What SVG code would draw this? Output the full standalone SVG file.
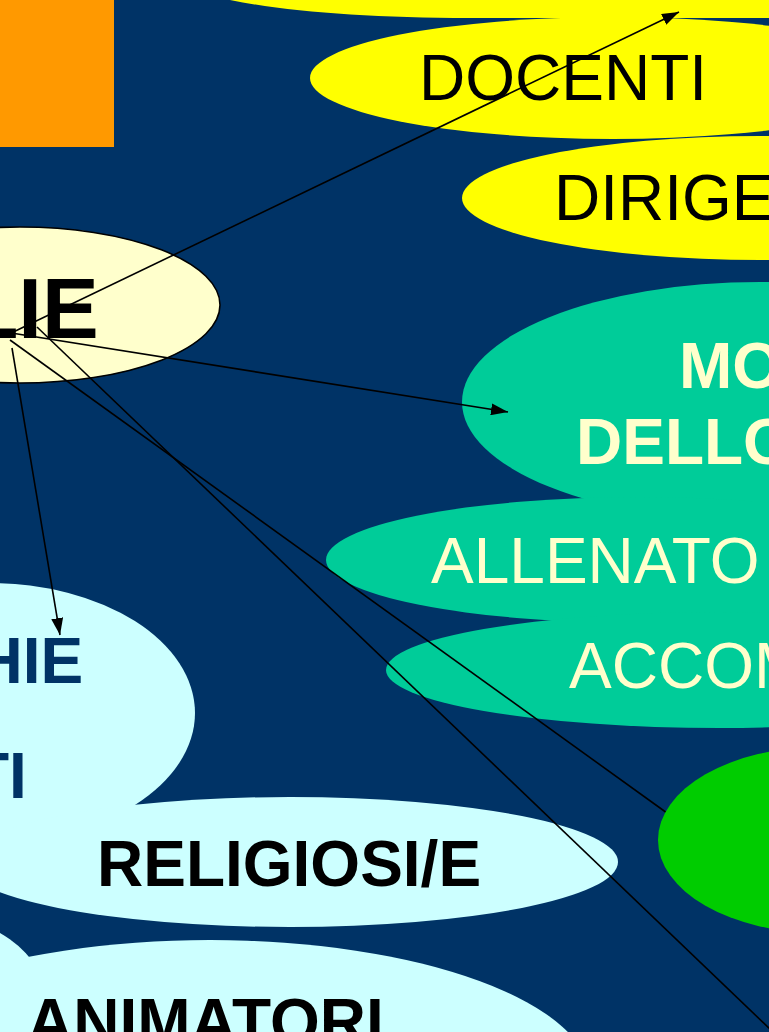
<svg xmlns="http://www.w3.org/2000/svg" width="769" height="1032" viewBox="0 0 769 1032">
<defs>
<style>
.t{font-family:"Liberation Sans",Arial,sans-serif;font-size:64px}
.b{font-weight:bold}
.dark{fill:#000000}
.cream{fill:#FFFFCC}
.navy{fill:#003366}
.yel{fill:#FFFF00}
.teal{fill:#00CC99}
.cyan{fill:#CCFFFF}
.ln{stroke:#000000;stroke-width:1.6;fill:none}
</style>
<marker id="ah" markerUnits="userSpaceOnUse" markerWidth="18" markerHeight="12" refX="17" refY="6" orient="auto">
<path d="M0,0 L17,6 L0,12 Z" fill="#000000"/>
</marker>
</defs>
<rect x="0" y="0" width="769" height="1032" fill="#003366"/>
<g id="title-box"><rect x="0" y="0" width="114" height="147" fill="#FF9900"/></g>
<g id="scuola">
<path class="yel" d="M230,0 C290,12 370,18 470,18 L769,18 L769,0 Z"/>
<ellipse class="yel" cx="613" cy="78" rx="303" ry="61"/>
<text class="t dark" x="419" y="100">DOCENTI</text>
</g>
<g id="dirigenti">
<ellipse class="yel" cx="760" cy="198" rx="298" ry="62"/>
<text class="t dark" x="554" y="220">DIRIGE</text>
</g>
<g id="mondo-sport">
<ellipse class="teal" cx="760" cy="402" rx="298" ry="120"/>
<text class="t b cream" x="679" y="388">MO</text>
<text class="t b cream" x="576" y="464">DELLO</text>
</g>
<g id="allenatori">
<ellipse class="teal" cx="640" cy="560" rx="314" ry="63"/>
<text class="t cream" x="431" y="583">ALLENATO</text>
</g>
<g id="accompagnatori">
<ellipse class="teal" cx="720" cy="670" rx="334" ry="58"/>
<text class="t cream" x="569" y="688">ACCOM</text>
</g>
<g id="parrocchie">
<ellipse class="cyan" cx="-10" cy="713" rx="205" ry="130"/>
<text class="t b navy" x="-23.4" y="683">HIE</text>
<text class="t b navy" x="-30" y="798">TI</text>
</g>
<g id="religiosi">
<ellipse class="cyan" cx="290" cy="862" rx="328" ry="65"/>
<text class="t b dark" x="97" y="886">RELIGIOSI/E</text>
</g>
<g id="animatori">
<ellipse class="cyan" cx="-80" cy="1003" rx="127" ry="90"/>
<ellipse class="cyan" cx="210" cy="1080" rx="381" ry="140"/>
<text class="t b dark" x="27" y="1044">ANIMATORI</text>
</g>
<g id="famiglie">
<ellipse cx="20" cy="305" rx="200" ry="78" fill="#FFFFCC" stroke="#000000" stroke-width="1.6"/>
<text class="t b dark" x="-33.6" y="338" style="font-size:85px">LIE</text>
</g>
<g id="connectors">
<line class="ln" x1="5" y1="336" x2="679" y2="12" marker-end="url(#ah)"/>
<line class="ln" x1="5" y1="332" x2="508" y2="412" marker-end="url(#ah)"/>
<line class="ln" x1="12" y1="348" x2="60" y2="635" marker-end="url(#ah)"/>
<line class="ln" x1="10" y1="340" x2="667" y2="813"/>
<line class="ln" x1="37" y1="327" x2="772" y2="1031"/>
</g>
<g id="green-node">
<ellipse cx="820" cy="840" rx="162" ry="93" fill="#00CC00"/>
</g>
</svg>
